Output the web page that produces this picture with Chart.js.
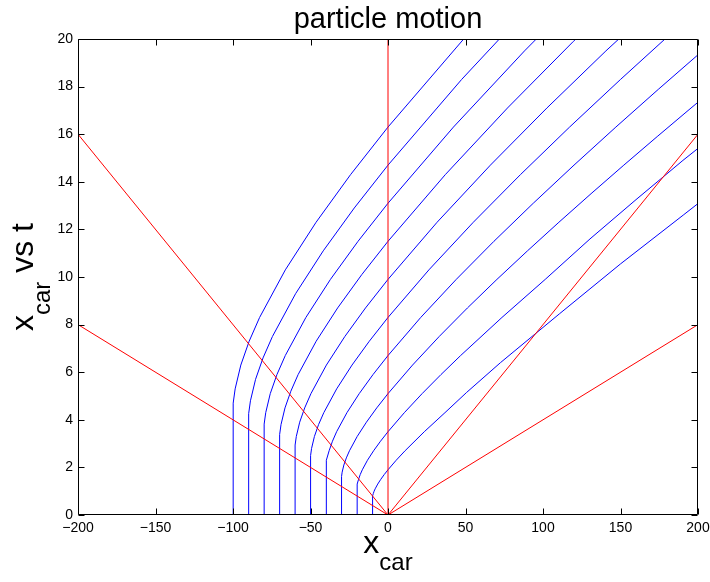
<!DOCTYPE html>
<html>
<head>
<meta charset="utf-8">
<script src="https://cdn.jsdelivr.net/npm/chart.js@4/dist/chart.umd.min.js"></script>
<style>
  html, body { margin: 0; padding: 0; background: #fff; }
  canvas { display: block; }
</style>
</head>
<body>
<canvas id="c" width="710" height="582"></canvas>
<script>
Chart.defaults.color = '#000';
Chart.defaults.font.family = '"Liberation Sans", Arial, Helvetica, sans-serif';

// axis ranges / ticks
const X_MIN = -200, X_MAX = 200, X_STEP = 50;
const T_MIN = 0, T_MAX = 20, T_STEP = 2;

// red reference lines: all start at the origin, end at (RED_END_X, RED_END_T)
const RED_END_X = [-200, -200, 200, 200, 0];
const RED_END_T = [16, 8, 16, 8, 20];

// car trajectories [x, t] (start position -100 ... -10)
const track100 = [[-100,0],[-100,4.3],[-99.76,4.7],[-98.61,5.3],[-94.95,6.3],[-89.58,7.3],[-82.84,8.3],[-66.23,10.3],[-46.41,12.3],[-24.17,14.3],[0,16.3],[52.79,20.3]];
const track90 = [[-90,0],[-90,3.9],[-89.79,4.26],[-88.75,4.8],[-85.45,5.7],[-80.62,6.6],[-74.56,7.5],[-59.61,9.3],[-41.77,11.1],[-21.75,12.9],[0,14.7],[47.51,18.3],[99.09,21.9]];
const track80 = [[-80,0],[-80,3.5],[-79.81,3.82],[-78.89,4.3],[-75.96,5.1],[-71.66,5.9],[-66.27,6.7],[-52.98,8.3],[-37.13,9.9],[-19.33,11.5],[0,13.1],[42.23,16.3],[88.08,19.5],[136.68,22.7]];
const track70 = [[-70,0],[-70,3.1],[-69.83,3.38],[-69.02,3.8],[-66.46,4.5],[-62.7,5.2],[-57.99,5.9],[-46.36,7.3],[-32.49,8.7],[-16.92,10.1],[0,11.5],[36.95,14.3],[77.07,17.1],[119.6,19.9],[164.02,22.7]];
const track60 = [[-60,0],[-60,2.7],[-59.86,2.94],[-59.16,3.3],[-56.97,3.9],[-53.75,4.5],[-49.71,5.1],[-39.74,6.3],[-27.85,7.5],[-14.5,8.7],[0,9.9],[31.67,12.3],[66.06,14.7],[102.51,17.1],[140.59,19.5],[220.53,24.3]];
const track50 = [[-50,0],[-50,2.3],[-49.88,2.5],[-49.3,2.8],[-47.47,3.3],[-44.79,3.8],[-41.42,4.3],[-33.11,5.3],[-23.21,6.3],[-12.08,7.3],[0,8.3],[26.39,10.3],[55.05,12.3],[85.43,14.3],[117.16,16.3],[150,18.3],[183.77,20.3]];
const track40 = [[-40,0],[-40,1.9],[-39.9,2.06],[-39.44,2.3],[-37.98,2.7],[-35.83,3.1],[-33.14,3.5],[-26.49,4.3],[-18.56,5.1],[-9.67,5.9],[0,6.7],[21.11,8.3],[44.04,9.9],[68.34,11.5],[93.73,13.1],[120,14.7],[147.02,16.3],[174.67,17.9],[202.87,19.5]];
const track30 = [[-30,0],[-30,1.5],[-29.93,1.62],[-29.58,1.8],[-28.48,2.1],[-26.87,2.4],[-24.85,2.7],[-19.87,3.3],[-13.92,3.9],[-7.25,4.5],[0,5.1],[15.84,6.3],[33.03,7.5],[51.26,8.7],[70.29,9.9],[90,11.1],[110.26,12.3],[131,13.5],[152.15,14.7],[173.67,15.9],[195.5,17.1],[217.62,18.3]];
const track20 = [[-20,0],[-20,1.1],[-19.95,1.18],[-19.72,1.3],[-18.99,1.5],[-17.92,1.7],[-16.57,1.9],[-13.25,2.3],[-9.28,2.7],[-4.83,3.1],[0,3.5],[10.56,4.3],[22.02,5.1],[34.17,5.9],[46.86,6.7],[73.51,8.3],[101.44,9.9],[130.33,11.6],[160,13.25],[190.29,14.9],[221.11,16.5]];
const track10 = [[-10,0],[-10,0.7],[-9.98,0.74],[-9.86,0.8],[-9.49,0.9],[-8.96,1.0],[-8.28,1.1],[-6.62,1.3],[-4.64,1.5],[-2.42,1.7],[0,1.9],[5.28,2.3],[11.01,2.7],[23.43,3.5],[36.75,4.3],[50.72,5.15],[72.54,6.4],[110.56,8.45],[150,10.55],[190.46,12.6],[231.68,14.7]];
const TRACKS = [track100, track90, track80, track70, track60, track50, track40, track30, track20, track10];

const FONT = '"Liberation Sans", Arial, Helvetica, sans-serif';
const fmt = (v) => v < 0 ? '\u2212' + Math.abs(v) : String(v);

// x with a subscript, plus optional tail text, centred on 0 at baseline 0
function subText(ctx, main, sub, tail, big, small, drop) {
  ctx.font = `${big}px ${FONT}`;
  const w1 = ctx.measureText(main).width, w3 = tail ? ctx.measureText(tail).width : 0;
  ctx.font = `${small}px ${FONT}`;
  const w2 = ctx.measureText(sub).width;
  let x = -(w1 + w2 + w3) / 2;
  ctx.textAlign = 'left'; ctx.textBaseline = 'alphabetic';
  ctx.font = `${big}px ${FONT}`; ctx.fillText(main, x, 0); x += w1;
  ctx.font = `${small}px ${FONT}`; ctx.fillText(sub, x, drop); x += w2;
  if (tail) { ctx.font = `${big}px ${FONT}`; ctx.fillText(tail, x, 0); }
}

const boxPlugin = {
  id: 'box',
  afterDraw(chart) {
    const { ctx, chartArea: a, scales: { x, y } } = chart;
    ctx.save();
    ctx.strokeStyle = '#000'; ctx.lineWidth = 1;
    const L = Math.round(a.left) + 0.5, R = Math.round(a.right) - 0.5;
    const T = Math.round(a.top) + 0.5, B = Math.round(a.bottom) - 0.5;
    ctx.beginPath();
    ctx.rect(L, T, R - L, B - T);
    // inward ticks on all four sides
    for (const t of x.ticks) {
      const px = Math.round(x.getPixelForValue(t.value)) + 0.5;
      ctx.moveTo(px, B); ctx.lineTo(px, B - 6);
      ctx.moveTo(px, T); ctx.lineTo(px, T + 6);
    }
    for (const t of y.ticks) {
      const py = Math.round(y.getPixelForValue(t.value)) + 0.5;
      ctx.moveTo(L, py); ctx.lineTo(L + 6, py);
      ctx.moveTo(R, py); ctx.lineTo(R - 6, py);
    }
    ctx.stroke();

    ctx.fillStyle = '#000';
    // x label
    ctx.save();
    ctx.translate((a.left + a.right) / 2, 553);
    subText(ctx, 'x', 'car', '', 32, 24, 17);
    ctx.restore();
    // y label
    ctx.save();
    ctx.translate(33, (a.top + a.bottom) / 2);
    ctx.rotate(-Math.PI / 2);
    subText(ctx, 'x', 'car', ' vs t', 32, 24, 17);
    ctx.restore();
    ctx.restore();
  }
};

const datasets = [];
RED_END_X.forEach((ex, i) => datasets.push({
  data: [{ x: 0, y: 0 }, { x: ex, y: RED_END_T[i] }],
  borderColor: '#ff0000', borderWidth: 1,
}));
TRACKS.forEach(tr => datasets.push({
  data: tr.map(([x, t]) => ({ x, y: t })),
  borderColor: '#0000ff', borderWidth: 1,
}));

new Chart(document.getElementById('c'), {
  type: 'scatter',
  data: { datasets },
  options: {
    responsive: false,
    animation: false,
    showLine: true,
    elements: { point: { radius: 0, hoverRadius: 0 }, line: { tension: 0, fill: false } },
    layout: { padding: { left: 0, right: 12, top: 0, bottom: 0 } },
    plugins: {
      legend: { display: false },
      tooltip: { enabled: false },
      title: {
        display: true, text: 'particle motion', fullSize: false,
        font: { size: 29, weight: 'normal', lineHeight: 1.2 },
        padding: { top: 3, bottom: 1.2 },
      },
    },
    scales: {
      x: {
        type: 'linear', min: X_MIN, max: X_MAX,
        ticks: { stepSize: X_STEP, padding: 5, font: { size: 14 }, callback: fmt, maxRotation: 0 },
        grid: { display: false, drawTicks: false },
        border: { display: false },
        afterFit: (s) => { s.height = 67; s.paddingLeft = 0; s.paddingRight = 0; },
      },
      y: {
        type: 'linear', min: T_MIN, max: T_MAX,
        ticks: { stepSize: T_STEP, padding: 5, font: { size: 14 }, callback: fmt },
        grid: { display: false, drawTicks: false },
        border: { display: false },
        afterFit: (s) => { s.width = 78; s.paddingTop = 0; s.paddingBottom = 0; },
      },
    },
  },
  plugins: [boxPlugin],
});
</script>
</body>
</html>
